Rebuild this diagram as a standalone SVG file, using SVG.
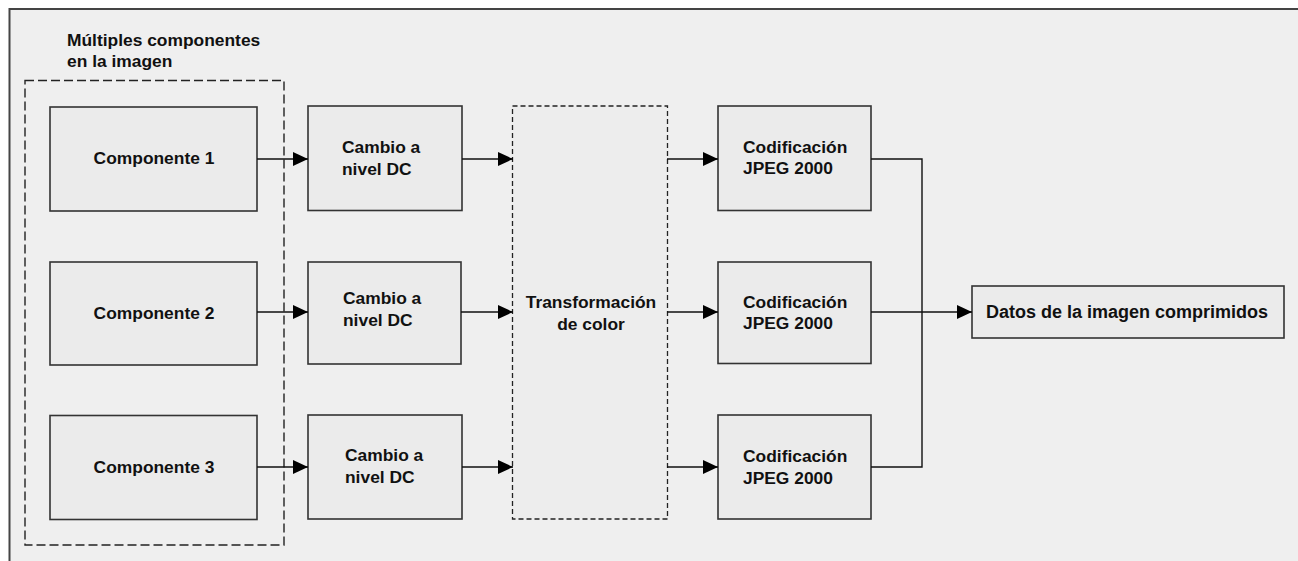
<svg xmlns="http://www.w3.org/2000/svg" width="1298" height="561" viewBox="0 0 1298 561">
<defs>
<style>
text{font-family:"Liberation Sans",Arial,sans-serif;font-weight:bold;font-size:17.4px;fill:#111}
.box{fill:#ebebeb;stroke:#333;stroke-width:1.6}
.mid{text-anchor:middle}
.con{fill:none;stroke:#111;stroke-width:1.4}
</style>
<marker id="arr" markerUnits="userSpaceOnUse" markerWidth="15" markerHeight="14" refX="15" refY="7" orient="auto">
<path d="M0,0 L15,7 L0,14 Z" fill="#000"/>
</marker>
</defs>
<rect x="0" y="0" width="1298" height="561" fill="#ffffff"/>
<rect x="9" y="9" width="1289" height="552" fill="#efefef"/>
<path d="M9.5,561 V9 H1298" fill="none" stroke="#444" stroke-width="2"/>

<g id="group-components">
<rect x="25" y="80.5" width="259" height="464.5" fill="none" stroke="#222" stroke-width="1.4" stroke-dasharray="9,4"/>
<text x="67" y="46">Múltiples componentes</text>
<text x="67" y="67">en la imagen</text>
</g>
<g id="comp1"><rect class="box" x="50" y="107" width="207" height="104"/><text class="mid" x="154" y="164">Componente 1</text></g>
<g id="comp2"><rect class="box" x="50" y="262" width="207" height="103"/><text class="mid" x="154" y="318.5">Componente 2</text></g>
<g id="comp3"><rect class="box" x="50" y="415.5" width="207" height="104"/><text class="mid" x="154" y="473">Componente 3</text></g>

<g id="dc1"><rect class="box" x="308" y="106" width="154" height="104.5"/><text x="342" y="153">Cambio a</text><text x="342" y="174.5">nivel DC</text></g>
<g id="dc2"><rect class="box" x="308" y="262" width="153" height="102"/><text x="343" y="304">Cambio a</text><text x="343" y="325.5">nivel DC</text></g>
<g id="dc3"><rect class="box" x="308" y="415" width="154" height="104"/><text x="345" y="461">Cambio a</text><text x="345" y="482.5">nivel DC</text></g>

<g id="transform">
<rect x="512.5" y="106" width="155" height="413" fill="#ededed" stroke="#222" stroke-width="1.3" stroke-dasharray="5,3"/>
<text class="mid" x="591" y="308">Transformación</text>
<text class="mid" x="591" y="330">de color</text>
</g>

<g id="cod1"><rect class="box" x="718" y="106" width="153" height="104.5"/><text x="743" y="153">Codificación</text><text x="743" y="174">JPEG 2000</text></g>
<g id="cod2"><rect class="box" x="718" y="262" width="153" height="101.5"/><text x="743" y="307.5">Codificación</text><text x="743" y="329">JPEG 2000</text></g>
<g id="cod3"><rect class="box" x="718" y="415" width="153" height="104"/><text x="743" y="462">Codificación</text><text x="743" y="483.5">JPEG 2000</text></g>

<g id="output"><rect class="box" x="972" y="286" width="312" height="52"/><text class="mid" x="1127" y="317.5" style="font-size:18px">Datos de la imagen comprimidos</text></g>

<g id="connectors">
<line class="con" x1="257" y1="159" x2="308" y2="159" marker-end="url(#arr)"/>
<line class="con" x1="462" y1="159" x2="513" y2="159" marker-end="url(#arr)"/>
<line class="con" x1="667" y1="159" x2="718" y2="159" marker-end="url(#arr)"/>
<line class="con" x1="257" y1="312" x2="308" y2="312" marker-end="url(#arr)"/>
<line class="con" x1="461" y1="312" x2="513" y2="312" marker-end="url(#arr)"/>
<line class="con" x1="667" y1="312" x2="718" y2="312" marker-end="url(#arr)"/>
<line class="con" x1="257" y1="467" x2="308" y2="467" marker-end="url(#arr)"/>
<line class="con" x1="462" y1="467" x2="513" y2="467" marker-end="url(#arr)"/>
<line class="con" x1="667" y1="467" x2="718" y2="467" marker-end="url(#arr)"/>
<polyline class="con" points="871,159 922,159 922,467 871,467"/>
<line class="con" x1="871" y1="312" x2="972" y2="312" marker-end="url(#arr)"/>
</g>
</svg>
